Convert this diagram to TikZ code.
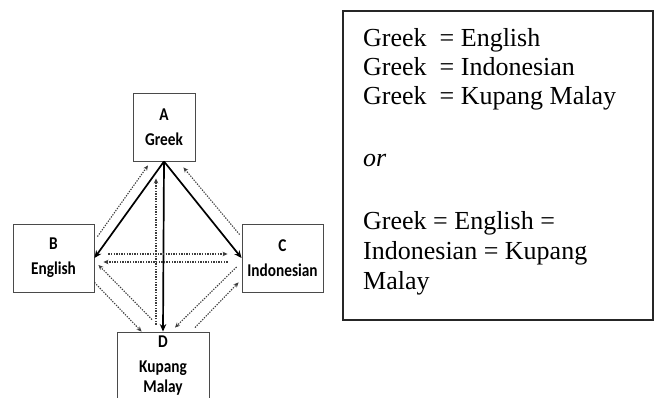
\documentclass[tikz,border=0pt]{standalone}
\usepackage{fontspec}
\setmainfont{Liberation Serif}
\newfontfamily\boxfont[FakeStretch=0.85]{Carlito}
\usetikzlibrary{arrows.meta}
\definecolor{boxgrey}{HTML}{4A4A4A}
\definecolor{dotgrey}{HTML}{3C3C3C}
\tikzset{
  langbox/.style={draw=boxgrey, line width=0.9pt, rectangle, inner sep=0pt, align=center,
    font=\boxfont\bfseries\fontsize{18}{25}\selectfont},
  solidarrow/.style={line width=1.7pt, -{Stealth[length=7.5pt,width=6.5pt]}},
  dotarrow/.style={draw=dotgrey, line width=1.1pt, dash pattern=on 1.3pt off 1.3pt,
    -{Stealth[length=5pt,width=4.5pt,fill=dotgrey]}},
  eqline/.style={anchor=base west, inner sep=0pt, font=\fontsize{26}{29}\selectfont},
}
\begin{document}
\begin{tikzpicture}[x=1pt,y=-1pt]
\clip (0,0) rectangle (654,398);
\fill[white] (0,0) rectangle (654,398);
% boxes
\node[langbox, minimum width=62pt, minimum height=68pt] (A) at (164,127) {A\\Greek};
\node[langbox, minimum width=81pt, minimum height=68pt] (B) at (53.5,258) {B\\English};
\node[langbox, minimum width=81pt, minimum height=68pt] (C) at (282.5,258) {C\\Indonesian};
\node[langbox, minimum width=92pt, minimum height=68pt] (D) at (163,366) {D\\Kupang\\[-5pt]Malay};
% solid arrows
\draw[solidarrow] (A.south) -- (B.east);
\draw[solidarrow] (A.south) -- (C.west);
\draw[solidarrow] (A.south) -- (D.north);
% dotted arrows
\draw[dotarrow] ([shift={(3pt,-13pt)}]B.north east) -- ([shift={(-16pt,-4pt)}]A.south);
\draw[dotarrow] ([shift={(-2pt,-11pt)}]C.north west) -- ([shift={(-12pt,-6pt)}]A.south east);
\draw[dotarrow] ([shift={(-7pt,7pt)}]D.north) -- ([shift={(-8pt,-17pt)}]A.south);
\draw[dotarrow] ([shift={(14pt,4pt)}]B.east) -- ([shift={(-14pt,4pt)}]C.west);
\draw[dotarrow] ([shift={(-14pt,-4pt)}]C.west) -- ([shift={(9pt,-4pt)}]B.east);
\draw[dotarrow] ([shift={(0pt,10pt)}]B.south east) -- ([shift={(25pt,0pt)}]D.north west);
\draw[dotarrow] ([shift={(-11pt,12pt)}]D.north) -- ([shift={(4pt,-7pt)}]B.east);
\draw[dotarrow] ([shift={(-5pt,-9pt)}]C.west) -- ([shift={(12pt,4pt)}]D.north);
\draw[dotarrow] ([shift={(32pt,4pt)}]D.north) -- ([shift={(-3pt,10pt)}]C.south west);
% right frame
\node[draw=black!85, line width=1.1pt, minimum width=310pt, minimum height=309pt, inner sep=0pt] (frame) at (498,165.5) {};
\node[eqline] (t1) at (363,46.7) {Greek\ \ = English};
\node[eqline] (t2) at (363,76) {Greek\ \ = Indonesian};
\node[eqline] (t3) at (363,105) {Greek\ \ = Kupang Malay};
\node[eqline] (t4) at (363,166.7) {\itshape or};
\node[eqline] (t5) at (363,230) {Greek = English =};
\node[eqline] (t6) at (363,260) {Indonesian = Kupang};
\node[eqline] (t7) at (363,290) {Malay};
\end{tikzpicture}
\end{document}
